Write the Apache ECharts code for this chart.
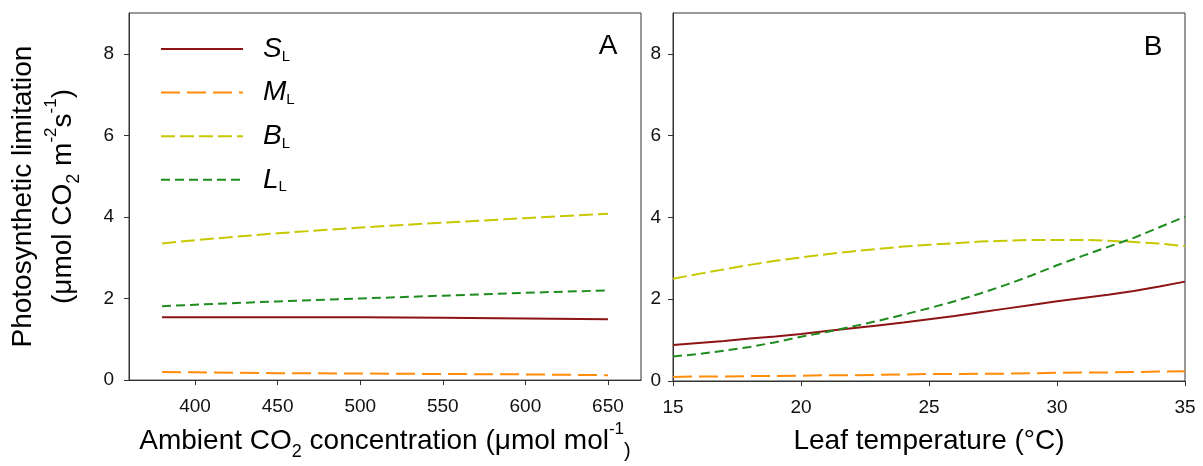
<!DOCTYPE html>
<html>
<head>
<meta charset="utf-8">
<script src="https://cdn.jsdelivr.net/npm/echarts@6/dist/echarts.min.js"></script>
<style>
html,body{margin:0;padding:0;background:#fff;}
#chart{width:1203px;height:466px;}
</style>
</head>
<body>
<div id="chart"></div>
<script>
// ---- Data ----
// Panel A: ambient CO2 (µmol mol-1)
var co2 = [380, 400, 450, 500, 550, 600, 650];
var aSL = [1.54, 1.54, 1.54, 1.54, 1.53, 1.51, 1.49];
var aML = [0.20, 0.19, 0.17, 0.16, 0.15, 0.14, 0.12];
var aBL = [3.35, 3.43, 3.60, 3.74, 3.86, 3.97, 4.08];
var aLL = [1.81, 1.85, 1.93, 2.00, 2.07, 2.14, 2.20];

// Panel B: leaf temperature (°C)
var temp = [15, 16, 17, 18, 19, 20, 21, 22, 23, 24, 25, 26, 27, 28, 29, 30, 31, 32, 33, 34, 35];
var bSL = [0.88, 0.93, 0.98, 1.04, 1.09, 1.15, 1.22, 1.29, 1.36, 1.43, 1.51, 1.59, 1.68, 1.77, 1.86, 1.95, 2.03, 2.11, 2.20, 2.31, 2.43];
var bML = [0.10, 0.11, 0.11, 0.12, 0.12, 0.13, 0.14, 0.14, 0.15, 0.16, 0.17, 0.17, 0.18, 0.18, 0.19, 0.20, 0.21, 0.21, 0.22, 0.23, 0.24];
var bBL = [2.50, 2.62, 2.73, 2.84, 2.94, 3.02, 3.10, 3.17, 3.23, 3.29, 3.33, 3.37, 3.41, 3.43, 3.45, 3.45, 3.45, 3.43, 3.40, 3.36, 3.30];
var bLL = [0.60, 0.66, 0.74, 0.83, 0.95, 1.08, 1.20, 1.33, 1.47, 1.62, 1.78, 1.95, 2.14, 2.35, 2.58, 2.83, 3.06, 3.28, 3.50, 3.76, 4.02];

// Ticks
var co2Ticks = [400, 450, 500, 550, 600, 650];
var yTicks = [0, 2, 4, 6, 8];

var seriesNames = ['SL', 'ML', 'BL', 'LL'];
var seriesLetters = {SL: 'S', ML: 'M', BL: 'B', LL: 'L'};

// ---- Styles ----
var FONT = 'Liberation Sans, Arial, Helvetica, sans-serif';
var styles = {
  SL: {color: '#8c1414', type: 'solid'},
  ML: {color: '#ff8c0a', type: [19, 7]},
  BL: {color: '#c8c800', type: [14, 5]},
  LL: {color: '#1e8c1e', type: [9, 5]}
};
var axisColor = '#333';

function zip(xs, ys) { return xs.map(function (x, i) { return [x, ys[i]]; }); }

var titleRich = {
  n: {fontSize: 28, lineHeight: 40, fontFamily: FONT, color: '#000'},
  sub: {fontSize: 18, lineHeight: 24, verticalAlign: 'bottom', fontFamily: FONT, color: '#000'},
  sup: {fontSize: 17, lineHeight: 20, verticalAlign: 'top', fontFamily: FONT, color: '#000'},
  sm: {fontSize: 20, lineHeight: 26, verticalAlign: 'bottom', fontFamily: FONT, color: '#000'}
};

function xAxisCommon(extra) {
  var base = {
    type: 'value',
    axisLine: {show: true, lineStyle: {color: axisColor, width: 1}},
    axisTick: {show: true, inside: false, length: 5, lineStyle: {color: axisColor}},
    axisLabel: {color: '#111', fontSize: 19, fontFamily: FONT, margin: 17},
    splitLine: {show: false},
    nameLocation: 'middle',
    nameGap: 40,
    nameTextStyle: {rich: titleRich}
  };
  return Object.assign(base, extra);
}
function yAxisCommon(extra, margin) {
  var base = {
    type: 'value', min: 0, max: 9,
    axisLine: {show: true, lineStyle: {color: axisColor, width: 1}},
    axisTick: {show: true, inside: false, length: 5, lineStyle: {color: axisColor}, customValues: yTicks},
    axisLabel: {color: '#111', fontSize: 19, fontFamily: FONT, margin: margin, customValues: yTicks},
    splitLine: {show: false}
  };
  return Object.assign(base, extra);
}

var series = [];
var aData = {SL: aSL, ML: aML, BL: aBL, LL: aLL};
var bData = {SL: bSL, ML: bML, BL: bBL, LL: bLL};
seriesNames.forEach(function (nm) {
  series.push({
    name: nm, type: 'line', xAxisIndex: 0, yAxisIndex: 0,
    data: zip(co2, aData[nm]), symbol: 'none', showSymbol: false,
    lineStyle: {color: styles[nm].color, width: 2, type: styles[nm].type},
    itemStyle: {color: styles[nm].color},
    emphasis: {disabled: true}
  });
});
seriesNames.forEach(function (nm) {
  series.push({
    name: nm, type: 'line', xAxisIndex: 1, yAxisIndex: 1,
    data: zip(temp, bData[nm]), symbol: 'none', showSymbol: false,
    lineStyle: {color: styles[nm].color, width: 2, type: styles[nm].type},
    itemStyle: {color: styles[nm].color},
    emphasis: {disabled: true}
  });
});

var option = {
  animation: false,
  backgroundColor: '#fff',
  grid: [
    {left: 129, top: 13, width: 512, height: 368, show: true, borderColor: axisColor, borderWidth: 1, containLabel: false},
    {left: 673, top: 13, width: 512, height: 368, show: true, borderColor: axisColor, borderWidth: 1, containLabel: false}
  ],
  xAxis: [
    xAxisCommon({
      gridIndex: 0, min: 360, max: 670,
      axisTick: {show: true, inside: false, length: 5, lineStyle: {color: axisColor}, customValues: co2Ticks},
      axisLabel: {color: '#111', fontSize: 19, fontFamily: FONT, margin: 17, customValues: co2Ticks},
      name: '{n|Ambient CO}{sub|2}{n| concentration (μmol mol}{sup|-1}{sm|)}'
    }),
    xAxisCommon({
      gridIndex: 1, min: 15, max: 35, interval: 5,
      name: '{n|Leaf temperature (°C)}'
    })
  ],
  yAxis: [
    yAxisCommon({
      gridIndex: 0,
      name: '{n|Photosynthetic limitation}\n{n|(μmol CO}{sub|2}{n| m}{sup|-2}{n|s}{sup|-1}{n|)}',
      nameLocation: 'middle',
      nameGap: 46,
      nameTextStyle: {rich: titleRich, align: 'center'}
    }, 15),
    yAxisCommon({gridIndex: 1}, 12)
  ],
  legend: {
    orient: 'vertical',
    left: 160, top: 35,
    padding: 0,
    itemWidth: 82, itemHeight: 14, itemGap: 14.6,
    data: seriesNames,
    selectedMode: false,
    itemStyle: {opacity: 0},
    formatter: function (nm) {
      return '{i|' + seriesLetters[nm] + '}{s|L}';
    },
    textStyle: {
      rich: {
        i: {fontSize: 28, fontStyle: 'italic', lineHeight: 30, fontFamily: FONT, color: '#000', padding: [0, 0, 0, 15]},
        s: {fontSize: 15, lineHeight: 20, verticalAlign: 'bottom', fontFamily: FONT, color: '#000'}
      }
    }
  },
  graphic: [
    {type: 'text', x: 608, y: 46, style: {text: 'A', fontSize: 28, fontFamily: FONT, fill: '#000', align: 'center', verticalAlign: 'middle'}},
    {type: 'text', x: 1153, y: 47, style: {text: 'B', fontSize: 28, fontFamily: FONT, fill: '#000', align: 'center', verticalAlign: 'middle'}}
  ],
  series: series
};

var chart = echarts.init(document.getElementById('chart'), null, {renderer: 'canvas'});
chart.setOption(option);
</script>
</body>
</html>
